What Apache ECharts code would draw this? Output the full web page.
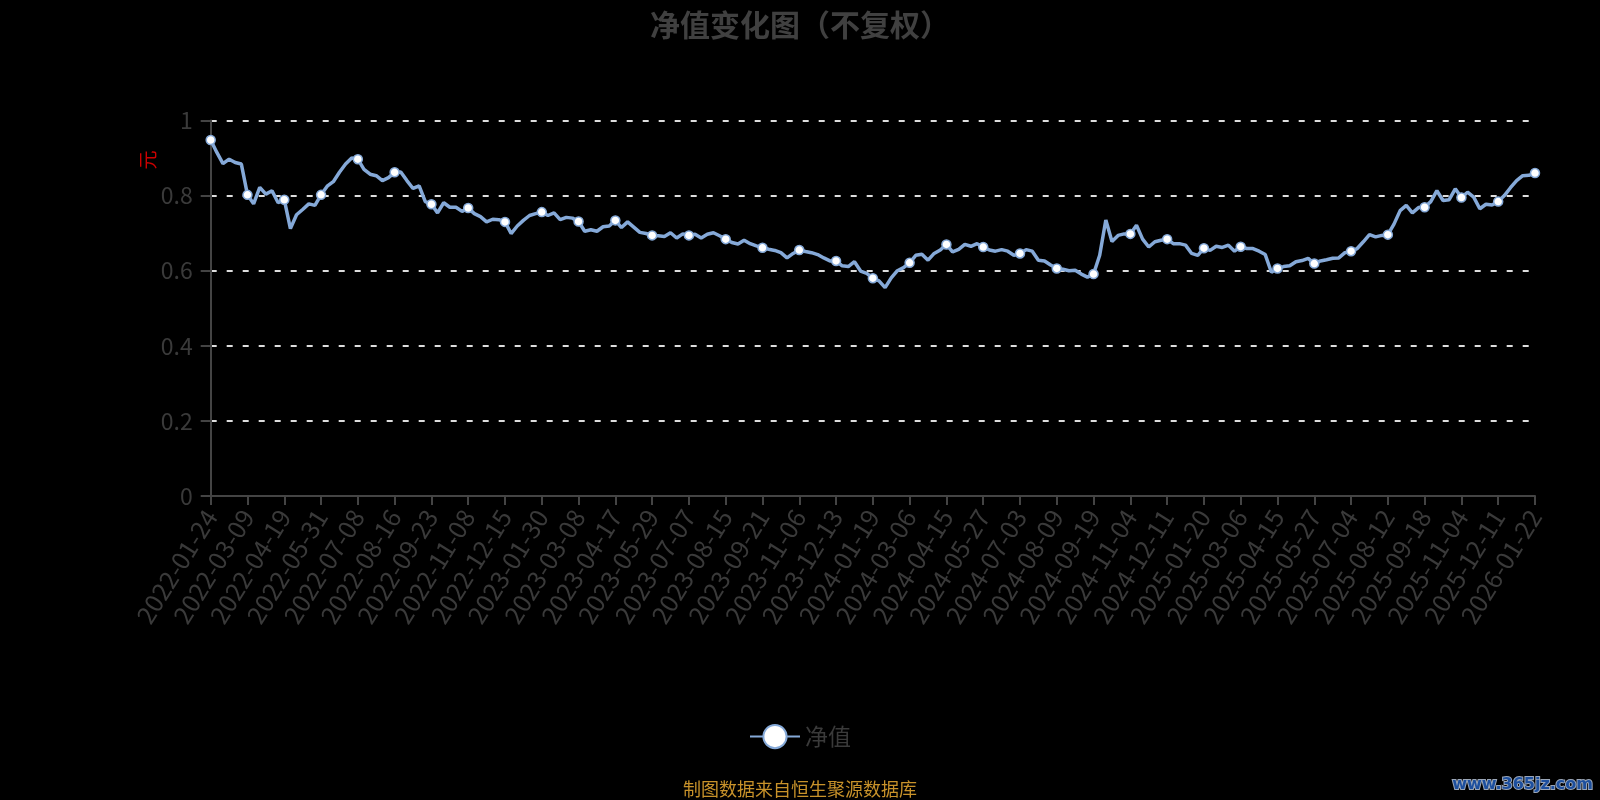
<!DOCTYPE html>
<html>
<head>
<meta charset="utf-8">
<script src="https://cdn.jsdelivr.net/npm/echarts@6.0.0/dist/echarts.min.js"></script>
<style>
html,body{margin:0;padding:0;background:#000;}
#chart{width:1600px;height:800px;}
</style>
</head>
<body>
<div id="chart"></div>
<script>
// x-axis tick labels (every 6th category)
const tickLabels = [
  '2022-01-24','2022-03-09','2022-04-19','2022-05-31','2022-07-08','2022-08-16',
  '2022-09-23','2022-11-08','2022-12-15','2023-01-30','2023-03-08','2023-04-17',
  '2023-05-29','2023-07-07','2023-08-15','2023-09-21','2023-11-06','2023-12-13',
  '2024-01-19','2024-03-06','2024-04-15','2024-05-27','2024-07-03','2024-08-09',
  '2024-09-19','2024-11-04','2024-12-11','2025-01-20','2025-03-06','2025-04-15',
  '2025-05-27','2025-07-04','2025-08-12','2025-09-18','2025-11-04','2025-12-11',
  '2026-01-22'
];
const pointsPerTick = 6;

// net value readings
const nav2022 = [
  0.948,0.915,0.885,0.897,0.888,0.884,0.802,0.778,0.822,0.804,0.813,0.781,
  0.789,0.712,0.749,0.763,0.778,0.774,0.802,0.825,0.837,0.862,0.884,0.900,
  0.897,0.870,0.857,0.853,0.840,0.848,0.862,0.863,0.840,0.819,0.826,0.784,
  0.777,0.754,0.781,0.769,0.769,0.758,0.767,0.752,0.744,0.730,0.737,0.736,
  0.730,0.699,0.719,0.734,0.747,0.752
];
const nav2023 = [
  0.756,0.747,0.754,0.736,0.742,0.740,0.731,0.705,0.709,0.705,0.717,0.719,
  0.734,0.715,0.730,0.716,0.702,0.699,0.694,0.693,0.691,0.701,0.687,0.698,
  0.694,0.697,0.687,0.697,0.701,0.693,0.684,0.675,0.671,0.681,0.672,0.666,
  0.661,0.657,0.654,0.648,0.634,0.646,0.655,0.651,0.648,0.643,0.634,0.626,
  0.626,0.613,0.611,0.624,0.599,0.593
];
const nav2024 = [
  0.580,0.573,0.555,0.581,0.600,0.608,0.621,0.641,0.644,0.628,0.646,0.655,
  0.670,0.650,0.657,0.670,0.665,0.672,0.663,0.655,0.652,0.656,0.652,0.641,
  0.646,0.656,0.652,0.628,0.626,0.615,0.606,0.604,0.600,0.601,0.591,0.583,
  0.591,0.641,0.735,0.678,0.694,0.698,0.698,0.721,0.684,0.663,0.677,0.681,
  0.684,0.672,0.672,0.668,0.646,0.641
];
const nav2025 = [
  0.660,0.654,0.665,0.662,0.668,0.652,0.664,0.659,0.659,0.652,0.643,0.596,
  0.606,0.611,0.613,0.624,0.627,0.633,0.619,0.626,0.629,0.633,0.634,0.648,
  0.652,0.659,0.677,0.696,0.690,0.694,0.696,0.724,0.760,0.774,0.754,0.768,
  0.769,0.784,0.813,0.787,0.789,0.818,0.795,0.809,0.796,0.765,0.777,0.775,
  0.784,0.800,0.821,0.840,0.853,0.854,0.860
];
const navValues = nav2022.concat(nav2023, nav2024, nav2025);

// category dates: tick dates with intermediate dates between them
const categories = [];
for (let k = 0; k < tickLabels.length - 1; k++) {
  const a = Date.parse(tickLabels[k]), b = Date.parse(tickLabels[k + 1]);
  for (let j = 0; j < pointsPerTick; j++) {
    if (j === 0) { categories.push(tickLabels[k]); continue; }
    categories.push(new Date(a + Math.round((b - a) / pointsPerTick * j / 86400000) * 86400000).toISOString().slice(0, 10));
  }
}
categories.push(tickLabels[tickLabels.length - 1]);

const font = "'Noto Sans CJK SC', 'Noto Sans', sans-serif";
const lineColor = '#85a9d8';

const chart = echarts.init(document.getElementById('chart'), null, {renderer: 'canvas'});
chart.setOption({
  backgroundColor: '#000',
  animation: false,
  textStyle: {fontFamily: font},
  title: {
    text: '净值变化图（不复权）',
    left: 'center',
    top: 5,
    textStyle: {fontSize: 30, fontWeight: 'bold', color: '#404040', fontFamily: font}
  },
  legend: {
    data: ['净值'],
    left: 'center',
    top: 719,
    itemWidth: 50,
    itemHeight: 29,
    itemGap: 10,
    textStyle: {fontSize: 23, color: '#3a3a3a', fontFamily: font}
  },
  grid: {left: 210.7, right: 65, top: 120.5, bottom: 304, containLabel: false},
  xAxis: {
    type: 'category',
    boundaryGap: false,
    data: categories,
    axisLine: {lineStyle: {color: '#444', width: 2}},
    axisTick: {show: true, interval: pointsPerTick - 1, length: 9, lineStyle: {color: '#444', width: 2}},
    axisLabel: {
      interval: pointsPerTick - 1,
      rotate: 58,
      margin: 16,
      fontSize: 25,
      color: '#3a3a3a',
      fontFamily: font
    },
    splitLine: {show: false}
  },
  yAxis: {
    type: 'value',
    min: 0,
    max: 1,
    interval: 0.2,
    axisLine: {show: true, lineStyle: {color: '#444', width: 2}},
    axisTick: {show: true, length: 10, lineStyle: {color: '#444', width: 2}},
    axisLabel: {fontSize: 23, color: '#3a3a3a', margin: 18, fontFamily: font},
    splitLine: {show: true, lineStyle: {color: '#ddd', width: 2, type: [6, 10]}}
  },
  graphic: [
    {
      type: 'text', x: 148, y: 160, rotation: Math.PI / 2,
      style: {text: '元', fill: '#cc0000', font: "19px 'Noto Sans CJK SC'", align: 'center', verticalAlign: 'middle'}
    },
    {
      type: 'text', x: 800, y: 789,
      style: {text: '制图数据来自恒生聚源数据库', fill: '#c8922a', font: "18px 'Noto Sans CJK SC'", align: 'center', verticalAlign: 'middle'}
    },
    {
      type: 'text', x: 1593, y: 785,
      style: {text: 'www.365jz.com', fill: '#1d4f9e', stroke: '#9aa6b8', lineWidth: 2, font: "bold 16px 'DejaVu Sans'", align: 'right', verticalAlign: 'middle'}
    }
  ],
  series: [{
    name: '净值',
    type: 'line',
    data: navValues,
    showSymbol: true,
    symbol: 'circle',
    symbolSize: 9,
    itemStyle: {color: '#fff', borderColor: lineColor, borderWidth: 1.5},
    lineStyle: {color: lineColor, width: 3.5}
  }]
});
</script>
</body>
</html>
